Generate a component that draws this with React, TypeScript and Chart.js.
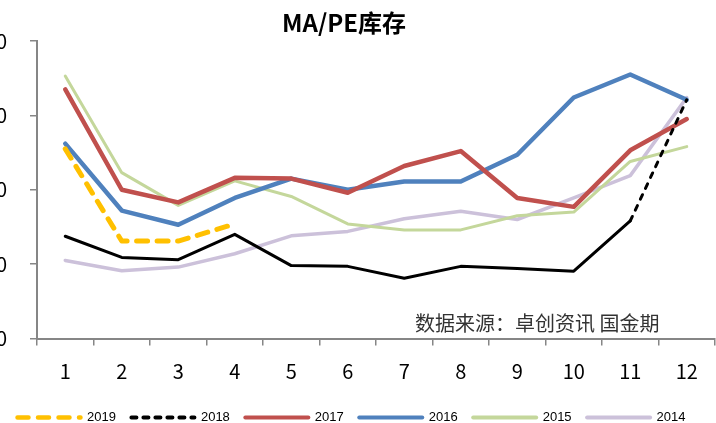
import { useEffect, useRef } from "react";
import { Chart, registerables } from "chart.js";

Chart.register(...registerables);

const months = ["1", "2", "3", "4", "5", "6", "7", "8", "9", "10", "11", "12"];
const yTicks = [0, 10, 20, 30, 40];
const seriesNames = ["2019", "2018", "2017", "2016", "2015", "2014"];
const s2019 = [25.5, 13.1, 13.1, 15.4, null, null, null, null, null, null, null, null];
const s2018 = [13.75, 10.9, 10.6, 14.0, 9.8, 9.7, 8.1, 9.7, 9.4, 9.05, 15.8, 32.1];
const s2017 = [33.5, 20.0, 18.3, 21.6, 21.5, 19.6, 23.2, 25.2, 18.9, 17.7, 25.3, 29.5];
const s2016 = [26.2, 17.2, 15.3, 18.9, 21.5, 20.0, 21.1, 21.1, 24.7, 32.4, 35.5, 32.1];
const s2015 = [35.3, 22.3, 17.9, 21.2, 19.1, 15.4, 14.6, 14.6, 16.5, 17.0, 23.8, 25.8];
const s2014 = [10.5, 9.1, 9.6, 11.4, 13.8, 14.4, 16.1, 17.1, 16.0, 18.9, 21.9, 32.4];
const titleText = "MA/PE库存";
const sourceText = "数据来源：卓创资讯 国金期";

const FONT = "'Liberation Sans Narrow', 'Arial Narrow', 'Noto Sans CJK SC', sans-serif";
const LEGEND_FONT = "'Liberation Sans', Arial, sans-serif";
const AXIS = "#868686";

export default function App() {
  const ref = useRef<HTMLCanvasElement>(null);
  useEffect(() => {
    if (!ref.current) return;
    const textPlugin = {
      id: "texts",
      afterLayout(chart: any) {
        if (chart.legend) {
          chart.legend.left += 2;
          chart.legend.right += 2;
        }
      },
      afterDraw(chart: any) {
        const ctx = chart.ctx;
        ctx.save();
        ctx.fillStyle = "#000";
        ctx.font = "bold 24px 'Liberation Sans Narrow', 'Noto Sans CJK SC', sans-serif";
        ctx.textAlign = "center";
        ctx.textBaseline = "middle";
        ctx.fillText(titleText, 344, 23);
        ctx.font = "20px 'Noto Sans CJK SC', sans-serif";
        ctx.fillStyle = "#333";
        ctx.textAlign = "left";
        ctx.fillText(sourceText, 415, 323);
        ctx.restore();
      },
    };
    const chart = new Chart(ref.current, {
      type: "line",
      data: {
        labels: months,
        datasets: [
          { label: seriesNames[0], data: s2019, borderColor: "#FFC000", backgroundColor: "#FFC000", borderWidth: 5, borderDash: [11, 9.5], borderCapStyle: "round" },
          {
            label: seriesNames[1], data: s2018, borderColor: "#000", backgroundColor: "#000", borderWidth: 3, borderDash: [5, 7], borderCapStyle: "round",
            segment: { borderDash: (c: any) => (c.p0DataIndex >= 10 ? [5, 7] : []) },
          },
          { label: seriesNames[2], data: s2017, borderColor: "#C0504D", backgroundColor: "#C0504D", borderWidth: 4.5, borderCapStyle: "round" },
          { label: seriesNames[3], data: s2016, borderColor: "#4F81BD", backgroundColor: "#4F81BD", borderWidth: 4.5, borderCapStyle: "round" },
          { label: seriesNames[4], data: s2015, borderColor: "#C4D79B", backgroundColor: "#C4D79B", borderWidth: 3, borderCapStyle: "round" },
          { label: seriesNames[5], data: s2014, borderColor: "#CCC1DA", backgroundColor: "#CCC1DA", borderWidth: 3.5, borderCapStyle: "round" },
        ],
      },
      options: {
        responsive: false,
        animation: false,
        devicePixelRatio: 1,
        layout: { padding: { top: 41, right: 1, left: 0, bottom: 0 } },
        elements: { point: { radius: 0 }, line: { tension: 0, borderJoinStyle: "round" } },
        plugins: {
          title: { display: false },
          tooltip: { enabled: false },
          legend: {
            position: "bottom",
            align: "start",
            labels: {
              usePointStyle: true,
              pointStyle: "line",
              pointStyleWidth: 63,
              padding: 15.5,
              color: "#000",
              font: { size: 13, family: LEGEND_FONT },
              generateLabels: (chart: any) => {
                const items = (Chart.defaults.plugins.legend.labels.generateLabels as any)(chart);
                items.forEach((it: any, i: number) => {
                  const ds = chart.data.datasets[i];
                  it.lineDash = ds.borderDash || [];
                  it.lineCap = "round";
                  it.lineWidth = i === 0 ? 4.5 : 4;
                  it.strokeStyle = ds.borderColor;
                  it.pointStyle = "line";
                });
                return items;
              },
            },
          },
        },
        scales: {
          x: {
            offset: true,
            grid: { offset: true, drawOnChartArea: false, drawTicks: true, tickLength: 7, color: AXIS, lineWidth: 1.5 },
            border: { color: AXIS, width: 2 },
            ticks: { padding: 14, color: "#000", font: { size: 20, family: FONT } },
            afterFit: (s: any) => { s.height = 57; },
          },
          y: {
            min: yTicks[0],
            max: yTicks[yTicks.length - 1],
            afterBuildTicks: (s: any) => { s.ticks = yTicks.map((v) => ({ value: v })); },
            grid: { drawOnChartArea: false, drawTicks: true, tickLength: 7, color: AXIS, lineWidth: 1.5 },
            border: { color: AXIS, width: 2 },
            ticks: { padding: 23, color: "#000", font: { size: 20, family: FONT } },
            afterFit: (s: any) => { s.width = 37; },
          },
        },
      },
      plugins: [textPlugin],
    } as any);
    return () => chart.destroy();
  }, []);
  return (
    <div style={{ position: "absolute", left: 0, top: 0, width: 716, height: 423, overflow: "hidden" }}>
      <canvas ref={ref} width={716} height={434} style={{ display: "block" }} />
    </div>
  );
}
